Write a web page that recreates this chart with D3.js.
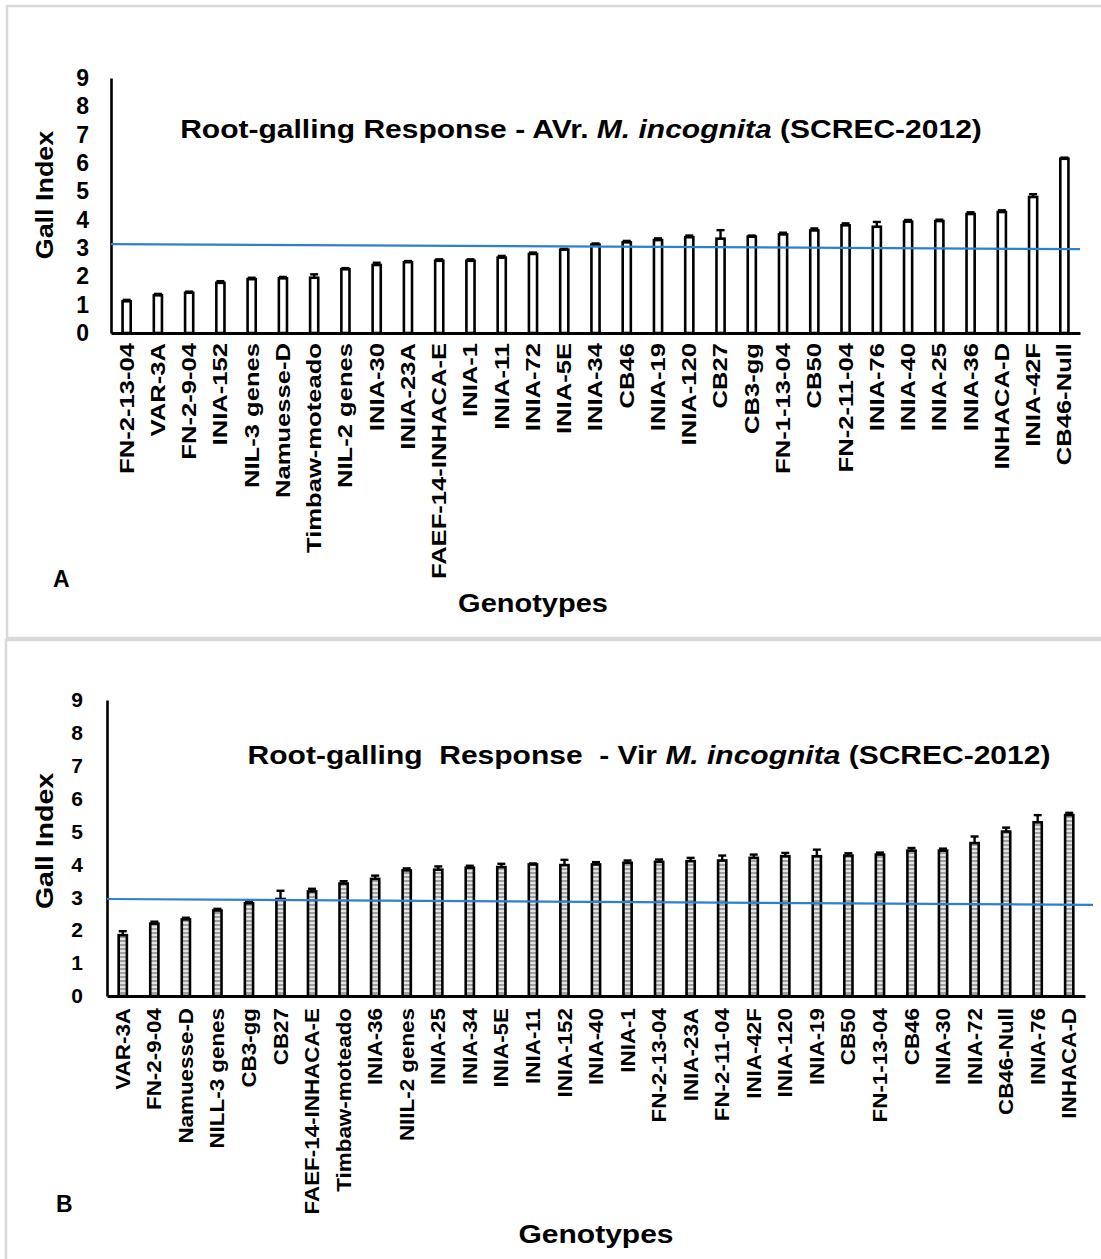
<!DOCTYPE html>
<html>
<head>
<meta charset="utf-8">
<script src="https://cdn.jsdelivr.net/npm/d3@7"></script>
<style>
  html, body { margin: 0; padding: 0; background: #fff; }
  svg { display: block; }
  text { font-family: "Liberation Sans", Arial, sans-serif; font-weight: bold; fill: #000; }
</style>
</head>
<body>
<svg id="chart" width="1101" height="1259"></svg>
<script>
// ---- Panel A: avirulent M. incognita ----
const genotypesA = ["FN-2-13-04","VAR-3A","FN-2-9-04","INIA-152","NIL-3 genes","Namuesse-D",
  "Timbaw-moteado","NIL-2 genes","INIA-30","INIA-23A","FAEF-14-INHACA-E","INIA-1","INIA-11",
  "INIA-72","INIA-5E","INIA-34","CB46","INIA-19","INIA-120","CB27","CB3-gg","FN-1-13-04",
  "CB50","FN-2-11-04","INIA-76","INIA-40","INIA-25","INIA-36","INHACA-D","INIA-42F","CB46-Null"];
const gallIndexA = [1.12,1.33,1.42,1.77,1.90,1.93,1.95,2.25,2.40,2.50,2.55,2.55,2.66,2.79,2.94,
  3.12,3.20,3.28,3.38,3.33,3.40,3.48,3.62,3.80,3.75,3.93,3.95,4.20,4.27,4.80,6.15];
const errorA = [0.05,0.05,0.04,0.06,0.05,0.05,0.12,0.04,0.08,0.04,0.05,0.05,0.06,0.05,0.03,
  0.04,0.05,0.06,0.06,0.30,0.04,0.06,0.07,0.07,0.17,0.06,0.05,0.06,0.06,0.10,0.04];
const thresholdA = [3.14, 2.96];   // reference line, start and end value

// ---- Panel B: virulent M. incognita ----
const genotypesB = ["VAR-3A","FN-2-9-04","Namuesse-D","NILL-3 genes","CB3-gg","CB27",
  "FAEF-14-INHACA-E","Timbaw-moteado","INIA-36","NIIL-2 genes","INIA-25","INIA-34","INIA-5E",
  "INIA-11","INIA-152","INIA-40","INIA-1","FN-2-13-04","INIA-23A","FN-2-11-04","INIA-42F",
  "INIA-120","INIA-19","CB50","FN-1-13-04","CB46","INIA-30","INIA-72","CB46-Null","INIA-76","INHACA-D"];
const gallIndexB = [1.85,2.20,2.33,2.60,2.82,2.95,3.18,3.42,3.56,3.82,3.84,3.90,3.92,4.00,3.98,
  4.00,4.05,4.08,4.10,4.12,4.20,4.25,4.25,4.27,4.30,4.42,4.42,4.65,5.00,5.28,5.50];
const errorB = [0.12,0.06,0.05,0.05,0.06,0.25,0.08,0.07,0.10,0.06,0.10,0.06,0.10,0.03,0.16,
  0.07,0.07,0.07,0.10,0.15,0.10,0.10,0.20,0.07,0.06,0.08,0.06,0.20,0.12,0.22,0.07];
const thresholdB = [2.95, 2.77];

const yTicks = [0,1,2,3,4,5,6,7,8,9];

const svg = d3.select("#chart");

// hatched fill used by the panel B bars
const defs = svg.append("defs");
const pat = defs.append("pattern").attr("id", "hatch")
  .attr("patternUnits", "userSpaceOnUse").attr("width", 4).attr("height", 4);
pat.append("rect").attr("width", 4).attr("height", 4).attr("fill", "#e4e4e4");
pat.append("rect").attr("width", 4).attr("height", 2).attr("fill", "#a0a0a0");

// panel frames
svg.append("rect").attr("x", 7).attr("y", 6).attr("width", 1200).attr("height", 632)
  .attr("fill", "none").attr("stroke", "#d9d9d9").attr("stroke-width", 2.5);
svg.append("rect").attr("x", 6).attr("y", 640).attr("width", 1200).attr("height", 700)
  .attr("fill", "none").attr("stroke", "#d9d9d9").attr("stroke-width", 2.5);

function drawPanel(o) {
  const g = svg.append("g");
  const x = d3.scaleBand().domain(o.names).range([o.x0, o.x1])
    .paddingInner(0.74).paddingOuter(0.37);
  const y = d3.scaleLinear().domain([0, 9]).range([o.yBase, o.yTop]);
  const rows = o.names.map((n, i) => ({ name: n, v: o.values[i], e: o.errors[i] }));

  // bars
  g.selectAll("rect.bar").data(rows).join("rect").attr("class", "bar")
    .attr("x", d => x(d.name)).attr("width", x.bandwidth())
    .attr("y", d => y(d.v)).attr("height", d => y(0) - y(d.v))
    .attr("fill", o.fill).attr("stroke", "#000").attr("stroke-width", 2.6);

  // error bars (upper half)
  const eb = g.selectAll("g.err").data(rows).join("g").attr("class", "err");
  eb.append("line")
    .attr("x1", d => x(d.name) + x.bandwidth() / 2).attr("x2", d => x(d.name) + x.bandwidth() / 2)
    .attr("y1", d => y(d.v)).attr("y2", d => y(d.v + d.e))
    .attr("stroke", "#000").attr("stroke-width", 2.4);
  eb.append("line")
    .attr("x1", d => x(d.name) + x.bandwidth() / 2 - 4).attr("x2", d => x(d.name) + x.bandwidth() / 2 + 4)
    .attr("y1", d => y(d.v + d.e)).attr("y2", d => y(d.v + d.e))
    .attr("stroke", "#000").attr("stroke-width", 2.4);

  // y axis
  const yAxis = d3.axisLeft(y).tickValues(yTicks).tickSize(0).tickPadding(o.tickPad);
  const ya = g.append("g").attr("transform", `translate(${o.x0},0)`).call(yAxis);
  ya.select(".domain").attr("stroke", "#000").attr("stroke-width", 2.6);
  ya.selectAll("text").attr("font-size", o.tickFont).attr("font-family", "Liberation Sans, Arial")
    .attr("font-weight", "bold").attr("fill", "#000");

  // x axis with rotated genotype names
  const xAxis = d3.axisBottom(x).tickSize(0).tickPadding(0);
  const xa = g.append("g").attr("transform", `translate(0,${o.yBase})`).call(xAxis);
  xa.select(".domain").attr("stroke", "#000").attr("stroke-width", 3);
  xa.selectAll("text")
    .attr("font-size", 20).attr("font-family", "Liberation Sans, Arial").attr("font-weight", "bold")
    .attr("fill", "#000").attr("text-anchor", "end").attr("dy", null).attr("y", 0)
    .attr("transform", `translate(0,${o.labelGap}) rotate(-90) scale(${o.labelStretch},1)`)
    .attr("dominant-baseline", "central");

  // reference line
  g.append("line")
    .attr("x1", o.x0).attr("x2", o.lineEnd)
    .attr("y1", y(o.threshold[0])).attr("y2", y(o.threshold[1]))
    .attr("stroke", "#2f7fcf").attr("stroke-width", 2.2);

  // title
  const t = g.append("text")
    .attr("transform", `translate(${o.titleX},${o.titleY}) scale(1.2,1)`)
    .attr("text-anchor", "middle").attr("font-size", o.titleFont)
    .style("white-space", "pre");
  o.title.forEach(part => t.append("tspan").text(part.s)
    .attr("font-style", part.i ? "italic" : "normal"));

  // axis titles
  g.append("text").attr("transform", `translate(45,${o.yLabelY}) rotate(-90) scale(${o.yLabelStretch},1)`)
    .attr("text-anchor", "middle").attr("dominant-baseline", "central")
    .attr("font-size", 23).text("Gall Index");
  g.append("text").attr("transform", `translate(${o.xLabelX},${o.xLabelY}) scale(${o.xLabelStretch},1)`)
    .attr("text-anchor", "middle").attr("font-size", 25).text("Genotypes");
  g.append("text").attr("x", o.tagX).attr("y", o.tagY)
    .attr("font-size", 23).text(o.tag);
}

drawPanel({
  names: genotypesA, values: gallIndexA, errors: errorA, threshold: thresholdA,
  x0: 111, x1: 1080, yBase: 333, yTop: 78, lineEnd: 1080,
  fill: "#fff", tickFont: 23, tickPad: 22,
  labelGap: 10, labelStretch: 1.28,
  title: [{ s: "Root-galling Response - AVr. " }, { s: "M. incognita", i: true }, { s: " (SCREC-2012)" }],
  titleX: 581, titleY: 138, titleFont: 25,
  yLabelY: 195, yLabelStretch: 1.17,
  xLabelX: 533, xLabelY: 612, xLabelStretch: 1.16, tag: "A", tagX: 53, tagY: 587
});

drawPanel({
  names: genotypesB, values: gallIndexB, errors: errorB, threshold: thresholdB,
  x0: 107, x1: 1085, yBase: 996, yTop: 700, lineEnd: 1093,
  fill: "url(#hatch)", tickFont: 21, tickPad: 24,
  labelGap: 12, labelStretch: 1.12,
  title: [{ s: "Root-galling  Response  - Vir " }, { s: "M. incognita", i: true }, { s: " (SCREC-2012)" }],
  titleX: 649, titleY: 764, titleFont: 25,
  yLabelY: 841, yLabelStretch: 1.24,
  xLabelX: 596, xLabelY: 1243, xLabelStretch: 1.2, tag: "B", tagX: 56, tagY: 1212
});
</script>
</body>
</html>
